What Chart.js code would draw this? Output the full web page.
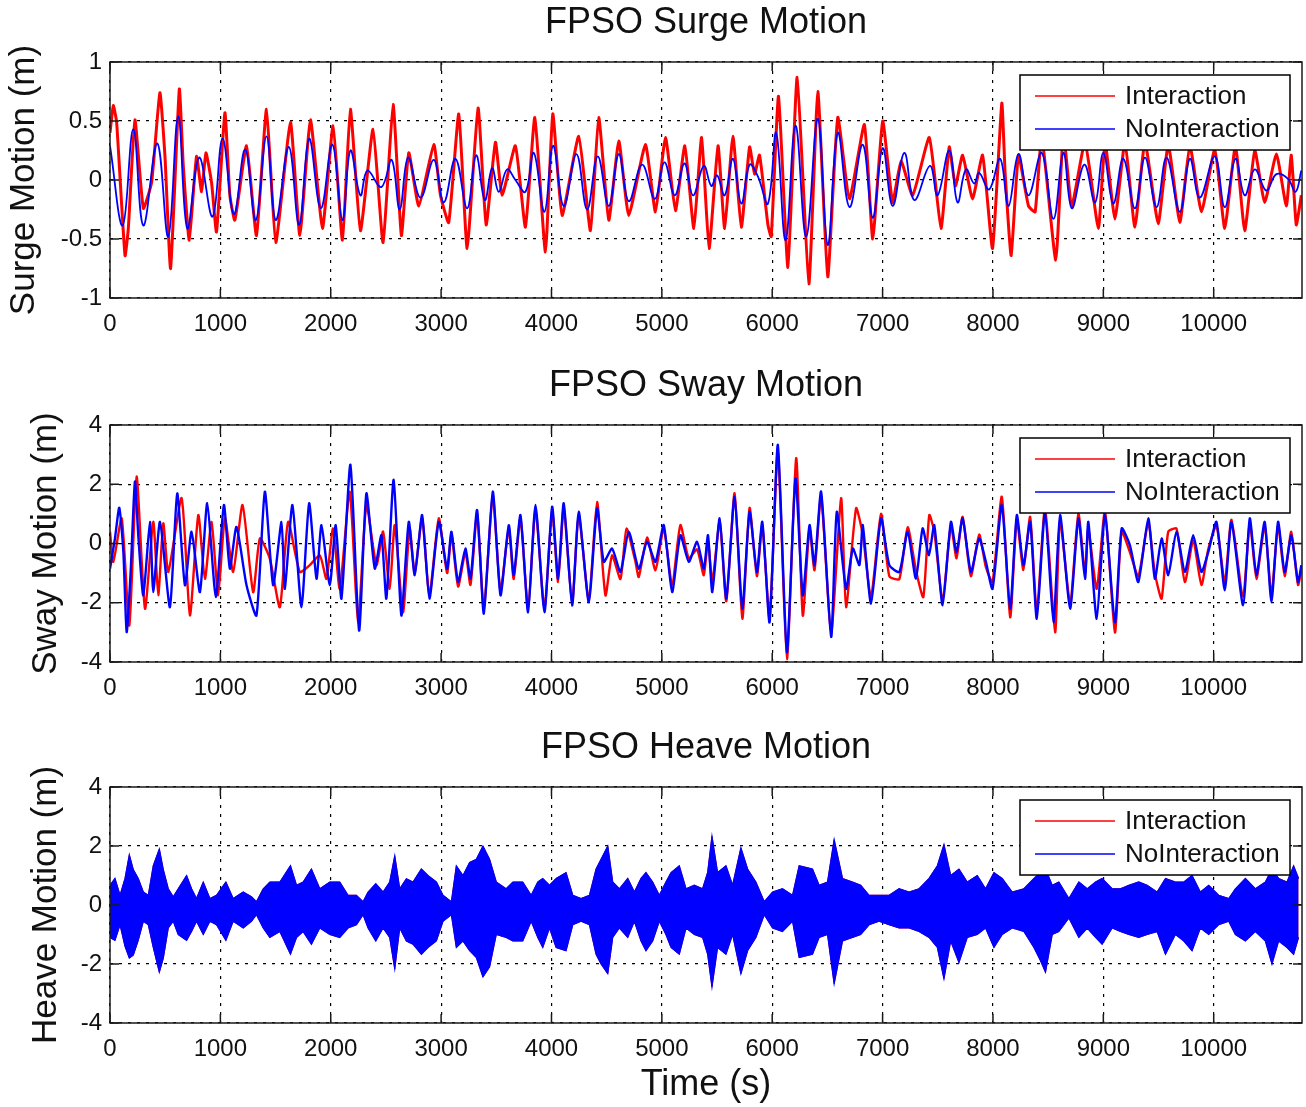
<!DOCTYPE html>
<html>
<head>
<meta charset="utf-8">
<title>FPSO Motions</title>
<script src="https://cdn.jsdelivr.net/npm/chart.js@4.4.1/dist/chart.umd.min.js"></script>
<style>
    html, body { margin: 0; padding: 0; background: #fff; overflow: hidden; }
    canvas { position: absolute; left: 0; }
</style>
</head>
<body>
<canvas id="surgeChart" width="1306" height="340" style="top:0px"></canvas>
<canvas id="swayChart" width="1306" height="360" style="top:340px"></canvas>
<canvas id="heaveChart" width="1306" height="407" style="top:700px"></canvas>
<script>
// tick labels
const timeTicks = [0, 1000, 2000, 3000, 4000, 5000, 6000, 7000, 8000, 9000, 10000];
const surgeTicks = [-1, -0.5, 0, 0.5, 1];
const motionTicks = [-4, -2, 0, 2, 4];
const seriesNames = ["Interaction", "NoInteraction"];
const seriesColors = ["#ff0000", "#0000ff"];

// [time (s), surge (m)]
const surgeInteraction = [
    [0,0.40],[30,0.63],[60,0.49],[136,-0.64],[166,-0.41],[226,0.51],[302,-0.24],[377,-0.02],[452,0.74],[498,0.20],
    [549,-0.75],[628,0.77],[664,0.12],[718,-0.51],[784,0.20],[830,-0.10],[869,0.23],[920,-0.02],[965,-0.44],[1041,0.57],
    [1086,-0.13],[1131,-0.34],[1237,0.29],[1327,-0.47],[1418,0.60],[1502,-0.53],[1635,0.49],[1720,-0.47],[1816,0.51],[1925,-0.41],
    [2021,0.46],[2106,-0.51],[2178,0.60],[2269,-0.43],[2383,0.43],[2474,-0.53],[2565,0.64],[2640,-0.47],[2707,0.23],[2798,-0.22],
    [2934,0.30],[2994,-0.13],[3069,-0.36],[3160,0.56],[3236,-0.58],[3335,0.61],[3408,-0.38],[3492,0.32],[3553,-0.13],[3673,0.29],
    [3764,-0.40],[3849,0.53],[3945,-0.61],[4012,0.56],[4096,-0.30],[4247,0.37],[4353,-0.43],[4428,0.53],[4519,-0.34],[4610,0.33],
    [4700,-0.30],[4851,0.30],[4942,-0.27],[5033,0.36],[5123,-0.26],[5208,0.29],[5290,-0.41],[5360,0.36],[5428,-0.58],[5509,0.29],
    [5569,-0.41],[5644,0.37],[5720,-0.40],[5795,0.28],[5840,0.05],[5885,0.21],[5961,-0.38],[5991,-0.48],[6057,0.71],[6142,-0.74],
    [6226,0.87],[6332,-0.88],[6413,0.75],[6503,-0.82],[6594,0.53],[6700,-0.16],[6835,0.47],[6911,-0.50],[7001,0.50],[7091,-0.19],
    [7167,0.16],[7272,-0.13],[7423,0.36],[7529,-0.41],[7604,0.28],[7660,-0.05],[7725,0.21],[7815,-0.16],[7906,0.21],[7996,-0.58],
    [8080,0.65],[8110,0.06],[8165,-0.64],[8231,0.21],[8322,-0.22],[8382,-0.27],[8442,0.37],[8569,-0.68],[8638,0.40],[8714,-0.22],
    [8834,0.32],[8955,-0.41],[9015,0.32],[9105,-0.33],[9196,0.32],[9286,-0.40],[9377,0.32],[9497,-0.37],[9588,0.30],[9693,-0.36],
    [9784,0.29],[9889,-0.27],[10010,0.26],[10100,-0.41],[10197,0.29],[10281,-0.43],[10372,0.25],[10462,-0.19],[10568,0.22],[10658,-0.22],
    [10703,0.21],[10748,-0.38],[10794,-0.13]
];
const surgeNoInteraction = [
    [0,0.29],[115,-0.385],[211,0.43],[302,-0.385],[428,0.31],[528,-0.48],[618,0.54],[700,-0.41],[808,0.19],[929,-0.31],
    [1020,0.35],[1122,-0.29],[1225,0.26],[1321,-0.34],[1418,0.37],[1502,-0.34],[1620,0.28],[1714,-0.38],[1804,0.35],[1910,-0.24],
    [2015,0.30],[2106,-0.34],[2178,0.25],[2269,-0.13],[2332,0.08],[2459,-0.06],[2552,0.17],[2625,-0.25],[2701,0.19],[2813,-0.15],
    [2934,0.17],[3024,-0.19],[3130,0.18],[3236,-0.24],[3317,0.21],[3396,-0.17],[3462,0.10],[3522,-0.10],[3598,0.09],[3673,0.0],
    [3764,-0.10],[3840,0.23],[3936,-0.27],[4015,0.29],[4111,-0.22],[4226,0.22],[4323,-0.25],[4419,0.20],[4519,-0.22],[4610,0.22],
    [4700,-0.18],[4821,0.13],[4936,-0.16],[5023,0.15],[5117,-0.13],[5205,0.14],[5283,-0.13],[5380,0.12],[5448,-0.05],[5500,0.04],
    [5569,-0.13],[5644,0.18],[5720,-0.20],[5795,0.13],[5870,0.03],[5961,-0.20],[6036,0.40],[6121,-0.51],[6211,0.46],[6308,-0.48],
    [6413,0.52],[6503,-0.55],[6594,0.40],[6700,-0.23],[6820,0.30],[6911,-0.32],[7001,0.27],[7091,-0.22],[7197,0.23],[7287,-0.17],
    [7429,0.12],[7498,-0.13],[7604,0.25],[7679,-0.19],[7755,0.09],[7830,-0.03],[7875,0.06],[7966,-0.08],[8065,0.18],[8141,-0.22],
    [8231,0.22],[8322,-0.13],[8442,0.23],[8548,-0.33],[8638,0.23],[8714,-0.24],[8828,0.13],[8925,-0.19],[9000,0.23],[9090,-0.20],
    [9181,0.18],[9286,-0.24],[9377,0.19],[9482,-0.23],[9573,0.19],[9693,-0.27],[9784,0.18],[9874,-0.15],[10010,0.20],[10100,-0.23],
    [10197,0.18],[10281,-0.13],[10372,0.09],[10477,-0.09],[10568,0.05],[10673,0.01],[10742,-0.10],[10794,0.08]
];

// [time (s), sway (m)]
const swayInteraction = [
    [0,0.40],[30,-0.62],[106,0.85],[175,-2.77],[241,2.26],[317,-2.20],[392,0.73],[437,-1.75],[483,0.68],[528,-0.96],
    [649,1.53],[724,-2.43],[800,0.96],[860,-1.19],[920,0.73],[980,-1.75],[1041,0.85],[1116,-0.96],[1201,1.30],[1297,-1.64],
    [1358,0.17],[1448,-0.51],[1539,-2.15],[1614,0.73],[1720,-0.96],[1810,-0.73],[1901,-0.40],[1961,-1.19],[2021,0.51],[2082,-1.53],
    [2172,1.75],[2248,-2.66],[2323,1.30],[2414,-0.73],[2474,0.40],[2534,-1.53],[2580,0.62],[2655,-2.32],[2715,0.50],[2761,-1.0],
    [2828,0.85],[2894,-1.75],[2979,0.85],[3054,-1.0],[3094,0.30],[3154,-1.45],[3220,-0.30],[3266,-1.40],[3326,1.0],[3387,-2.2],
    [3468,1.60],[3538,-1.60],[3613,0.50],[3658,-1.2],[3719,0.85],[3788,-2.2],[3855,1.15],[3936,-2.2],[4006,1.10],[4060,-1.3],
    [4111,1.2],[4187,-2.0],[4247,0.95],[4338,-1.9],[4413,1.40],[4489,-1.75],[4549,-0.40],[4625,-1.20],[4680,0.5],[4760,-0.6],
    [4791,-1.13],[4866,0.2],[4942,-0.9],[5017,0.5],[5093,-1.4],[5168,0.62],[5244,-0.5],[5319,-0.2],[5380,-1.07],[5418,0.1],
    [5457,-1.3],[5524,0.75],[5584,-1.95],[5659,1.7],[5729,-2.54],[5795,1.2],[5861,-1.1],[5910,0.6],[5976,-2.5],[6051,3.1],
    [6133,-3.9],[6217,2.88],[6277,-2.43],[6338,0.5],[6383,-0.9],[6443,1.6],[6534,-3.0],[6624,1.53],[6669,-2.15],[6760,1.19],
    [6820,0.3],[6895,-1.8],[6986,1.0],[7061,-1.1],[7152,-1.2],[7227,0.55],[7302,-0.9],[7369,-1.81],[7423,0.96],[7468,0.4],
    [7544,-1.9],[7619,0.6],[7670,-0.5],[7725,0.9],[7800,-1.1],[7875,0.3],[7936,-0.8],[7996,-1.3],[8080,1.58],[8156,-2.49],
    [8216,0.8],[8276,-0.9],[8337,0.9],[8397,-2.3],[8472,1.2],[8563,-3.0],[8608,0.8],[8699,-2.0],[8774,1.0],[8834,-1.0],
    [8864,0.5],[8940,-1.53],[9015,1.1],[9105,-3.0],[9166,0.4],[9241,-0.3],[9317,-1.1],[9407,0.7],[9467,-1.0],[9528,-1.86],
    [9588,0.4],[9663,0.5],[9739,-1.30],[9814,0.1],[9889,-1.4],[9950,-0.2],[10025,0.6],[10100,-1.3],[10161,0.8],[10266,-1.8],
    [10327,0.7],[10387,-1.2],[10462,0.6],[10523,-1.75],[10583,0.6],[10643,-1.1],[10703,0.4],[10764,-1.4],[10794,-0.9]
];
const swayNoInteraction = [
    [0,-0.85],[45,0.17],[84,1.21],[121,-0.28],[151,-2.99],[187,-0.96],[226,2.09],[256,0.28],[302,-1.75],[362,0.73],
    [392,-1.64],[453,0.73],[543,-2.15],[609,1.69],[679,-1.41],[739,0.40],[815,-1.64],[881,1.36],[959,-1.81],[1032,1.30],
    [1086,-0.85],[1146,0.56],[1237,-1.41],[1327,-2.43],[1403,1.75],[1478,-1.41],[1554,0.73],[1584,-1.53],[1653,1.30],[1735,-2.15],
    [1804,1.36],[1871,-1.19],[1916,0.62],[1991,-1.41],[2045,0.62],[2097,-1.86],[2178,2.66],[2257,-2.94],[2323,1.69],[2399,-0.85],
    [2459,0.28],[2504,-1.86],[2570,2.15],[2640,-2.43],[2707,0.73],[2761,-1.07],[2828,0.96],[2894,-1.86],[2979,0.73],[3054,-0.85],
    [3094,0.40],[3154,-1.30],[3220,-0.17],[3266,-1.19],[3326,1.13],[3387,-2.37],[3468,1.75],[3538,-1.75],[3613,0.62],[3658,-1.07],
    [3719,0.96],[3788,-2.32],[3855,1.30],[3936,-2.32],[4006,1.24],[4060,-1.19],[4111,1.36],[4187,-2.09],[4247,1.07],[4338,-1.98],
    [4413,1.19],[4474,-0.62],[4549,-0.17],[4625,-0.96],[4700,0.40],[4791,-0.85],[4866,0.06],[4942,-0.62],[5017,0.62],[5093,-1.64],
    [5168,0.28],[5244,-0.62],[5319,0.06],[5380,-0.85],[5418,0.28],[5457,-1.64],[5524,0.85],[5584,-1.86],[5659,1.58],[5729,-2.20],
    [5795,1.07],[5861,-0.96],[5910,0.73],[5976,-2.66],[6051,3.33],[6133,-3.67],[6211,2.20],[6277,-1.75],[6338,0.62],[6383,-0.73],
    [6443,1.75],[6534,-3.16],[6585,1.07],[6669,-1.53],[6730,-0.17],[6790,-0.73],[6820,0.62],[6895,-2.03],[6986,0.85],[7061,-0.73],
    [7152,-0.96],[7227,0.40],[7302,-1.19],[7363,0.51],[7420,-0.40],[7468,0.62],[7544,-2.09],[7619,0.73],[7670,-0.30],[7725,0.85],
    [7800,-0.96],[7875,0.17],[7936,-0.62],[7996,-1.53],[8080,1.30],[8156,-2.20],[8216,0.96],[8276,-0.73],[8337,0.73],[8397,-2.54],
    [8472,1.07],[8548,-2.66],[8608,0.96],[8699,-2.20],[8774,0.85],[8834,-1.19],[8864,0.73],[8940,-2.54],[9015,0.96],[9105,-2.66],
    [9166,0.51],[9241,-0.06],[9317,-1.30],[9407,0.85],[9467,-1.19],[9528,0.17],[9588,-1.07],[9663,0.40],[9739,-0.96],[9814,0.28],
    [9889,-0.96],[9950,-0.30],[10025,0.73],[10100,-1.58],[10161,0.73],[10266,-2.09],[10327,0.85],[10387,-1.07],[10462,0.73],[10523,-1.98],
    [10583,0.73],[10643,-0.96],[10703,0.28],[10764,-1.30],[10794,-0.73]
];

// heave is a fast oscillation: [time (s), upper peak, lower peak] of the trace
// (Interaction lies under NoInteraction almost everywhere)
const heaveEnvelope = [
    [0,0.67,-1.1],[45,0.9,-1.2],[91,0.33,-0.67],[136,0.9,-1.4],[175,1.7,-1.8],[211,1.2,-1.7],[256,0.9,-1.2],[302,0.44,-0.55],
    [347,0.33,-0.67],[392,1.33,-1.44],[447,1.9,-2.28],[483,1.2,-1.8],[528,0.55,-0.78],[573,0.28,-0.55],[618,0.55,-1.0],[694,1.0,-1.2],
    [739,0.55,-0.9],[784,0.22,-0.55],[845,0.78,-1.0],[905,0.22,-0.55],[965,0.33,-0.67],[1050,0.78,-1.2],[1116,0.22,-0.55],[1207,0.44,-0.78],
    [1282,0.28,-0.55],[1327,0.11,-0.33],[1388,0.55,-0.78],[1448,0.78,-1.1],[1539,0.78,-0.9],[1635,1.33,-1.67],[1690,0.67,-1.1],[1750,0.78,-0.9],
    [1825,1.22,-1.33],[1901,0.55,-0.78],[1991,0.78,-1.0],[2082,0.78,-1.1],[2157,0.33,-0.78],[2233,0.33,-0.67],[2293,0.11,-0.33],[2338,0.44,-0.78],
    [2408,0.72,-1.22],[2474,0.44,-0.78],[2534,0.78,-1.1],[2580,1.67,-2.17],[2625,0.55,-0.78],[2685,0.89,-1.22],[2745,0.78,-1.33],[2821,1.22,-1.67],
    [2881,1.0,-1.44],[2957,0.78,-1.22],[3017,0.33,-0.55],[3093,0.11,-0.33],[3138,1.33,-1.44],[3198,1.0,-1.22],[3258,1.44,-1.55],[3319,1.55,-1.78],
    [3379,2.0,-2.44],[3439,1.55,-2.1],[3500,0.78,-1.0],[3589,0.55,-1.1],[3650,0.78,-1.22],[3740,0.78,-1.22],[3816,0.33,-0.55],[3876,0.78,-1.1],
    [3921,0.9,-1.44],[3982,0.67,-0.78],[4042,0.9,-1.44],[4132,1.1,-1.55],[4193,0.33,-0.67],[4268,0.22,-0.55],[4344,0.33,-0.67],[4404,1.22,-1.67],
    [4449,1.55,-2.0],[4510,2.0,-2.33],[4555,0.78,-1.1],[4615,0.55,-0.78],[4691,0.9,-1.1],[4751,0.44,-0.55],[4811,0.9,-1.22],[4856,1.1,-1.55],
    [4917,0.78,-1.22],[4977,0.33,-0.55],[5037,0.78,-1.0],[5083,1.1,-1.44],[5158,1.33,-1.67],[5219,0.55,-0.78],[5294,0.67,-1.0],[5369,0.55,-1.1],
    [5415,1.1,-1.67],[5454,2.33,-2.78],[5505,1.1,-1.44],[5581,1.33,-1.67],[5641,0.67,-1.0],[5716,1.94,-2.33],[5777,1.22,-1.55],[5852,0.78,-1.1],
    [5928,0.11,-0.33],[6003,0.44,-0.78],[6093,0.55,-0.9],[6184,0.33,-0.55],[6244,1.33,-1.78],[6365,1.22,-1.67],[6425,0.67,-1.1],[6501,0.78,-1.0],
    [6561,2.22,-2.67],[6637,0.9,-1.22],[6727,0.78,-1.1],[6802,0.67,-1.0],[6878,0.33,-0.67],[6968,0.33,-0.55],[7059,0.33,-0.67],[7149,0.55,-0.78],
    [7240,0.44,-0.78],[7330,0.55,-0.9],[7421,0.9,-1.1],[7496,1.33,-1.44],[7556,2.05,-2.5],[7617,1.0,-1.22],[7692,1.22,-1.95],[7767,0.78,-1.1],
    [7858,1.0,-1.0],[7933,0.55,-0.78],[8009,1.1,-1.44],[8084,0.9,-1.0],[8175,0.44,-0.78],[8280,0.55,-0.9],[8371,0.9,-1.44],[8431,1.1,-1.89],
    [8476,1.22,-2.28],[8537,0.67,-1.0],[8597,0.78,-0.9],[8688,0.22,-0.44],[8778,0.78,-1.1],[8854,0.55,-0.78],[8929,0.78,-1.1],[8989,0.9,-1.33],
    [9080,0.55,-0.78],[9155,0.55,-0.9],[9231,0.67,-1.0],[9321,0.78,-1.1],[9397,0.67,-1.0],[9487,0.44,-0.9],[9563,0.9,-1.67],[9653,0.78,-1.0],
    [9729,0.78,-1.22],[9804,1.0,-1.55],[9879,0.44,-0.78],[9955,0.67,-1.0],[10045,0.33,-0.67],[10136,0.22,-0.55],[10196,0.55,-1.0],[10287,0.9,-1.22],
    [10377,0.55,-0.9],[10468,0.78,-1.22],[10528,1.22,-2.0],[10588,0.9,-1.22],[10664,0.78,-1.44],[10724,1.33,-1.67],[10769,0.9,-1.1]
];

Chart.defaults.font.family = "'Liberation Sans', Arial, sans-serif";
Chart.defaults.color = "#111";

function toPoints(rows, col) {
    return rows.map((r) => ({ x: r[0], y: r[col || 1] }));
}

// frame, inner tick marks, title and boxed legend the way MATLAB draws them
const matlabAxes = {
    id: "matlabAxes",
    afterDatasetsDraw(chart, args, opts) {
        const ctx = chart.ctx;
        const a = chart.chartArea;
        const xs = chart.scales.x;
        const ys = chart.scales.y;
        ctx.save();
        ctx.strokeStyle = "#1a1a1a";
        ctx.lineWidth = 1.5;
        ctx.beginPath();
        xs.ticks.forEach((t) => {
            const px = xs.getPixelForValue(t.value);
            ctx.moveTo(px, a.bottom);
            ctx.lineTo(px, a.bottom - 9);
            ctx.moveTo(px, a.top);
            ctx.lineTo(px, a.top + 9);
        });
        ys.ticks.forEach((t) => {
            const py = ys.getPixelForValue(t.value);
            ctx.moveTo(a.left, py);
            ctx.lineTo(a.left + 9, py);
            ctx.moveTo(a.right, py);
            ctx.lineTo(a.right - 9, py);
        });
        ctx.stroke();
        ctx.strokeRect(a.left, a.top, a.right - a.left, a.bottom - a.top);

        // legend
        const w = 270, h = 75;
        const lx = a.right - 12 - w, ly = a.top + 13;
        ctx.fillStyle = "#fff";
        ctx.fillRect(lx, ly, w, h);
        ctx.strokeStyle = "#000";
        ctx.strokeRect(lx, ly, w, h);
        ctx.font = "26px 'Liberation Sans', Arial, sans-serif";
        ctx.textBaseline = "middle";
        ctx.textAlign = "left";
        seriesNames.forEach((name, i) => {
            const y = ly + 21 + i * 33;
            ctx.strokeStyle = seriesColors[i];
            ctx.lineWidth = 1.5;
            ctx.beginPath();
            ctx.moveTo(lx + 15, y);
            ctx.lineTo(lx + 95, y);
            ctx.stroke();
            ctx.fillStyle = "#111";
            ctx.fillText(name, lx + 105, y + 1);
        });

        // title
        ctx.font = "36px 'Liberation Sans', Arial, sans-serif";
        ctx.textAlign = "center";
        ctx.fillStyle = "#111";
        ctx.fillText(opts.title, (a.left + a.right) / 2, a.top - 39);
        ctx.restore();
    },
};

function makeOptions(o) {
    return {
        responsive: false,
        animation: false,
        layout: { padding: { top: o.top, right: 4, left: 0, bottom: 0 } },
        elements: { point: { radius: 0 } },
        plugins: {
            legend: { display: false },
            tooltip: { enabled: false },
            matlabAxes: { title: o.title },
        },
        scales: {
            x: {
                type: "linear",
                min: 0,
                max: 10800,
                afterBuildTicks: (scale) => { scale.ticks = timeTicks.map((v) => ({ value: v })); },
                afterFit: (scale) => { scale.height = o.xHeight; },
                ticks: {
                    font: { size: 24 }, padding: 12, autoSkip: false, maxRotation: 0, color: "#111",
                    callback: (v) => String(v),
                },
                grid: { color: "#000", lineWidth: 1.2, drawTicks: false },
                border: { display: false, dash: [3, 6] },
                title: o.xTitle
                    ? { display: true, text: o.xTitle, font: { size: 36 }, padding: { top: 0, bottom: 0 }, color: "#111" }
                    : { display: false },
            },
            y: {
                min: o.yTicks[0],
                max: o.yTicks[o.yTicks.length - 1],
                afterBuildTicks: (scale) => { scale.ticks = o.yTicks.map((v) => ({ value: v })); },
                afterFit: (scale) => { scale.width = 110; },
                ticks: { font: { size: 24 }, padding: 8, color: "#111", callback: (v) => String(v) },
                grid: { color: "#000", lineWidth: 1.2, drawTicks: false },
                border: { display: false, dash: [3, 6] },
                title: { display: true, text: o.yTitle, font: { size: 35 }, padding: { top: o.yTitlePad, bottom: 0 }, color: "#111" },
            },
        },
    };
}

new Chart(document.getElementById("surgeChart"), {
    type: "line",
    data: {
        datasets: [
            { label: seriesNames[0], data: toPoints(surgeInteraction), borderColor: seriesColors[0], borderWidth: 3, tension: 0.15, order: 1 },
            { label: seriesNames[1], data: toPoints(surgeNoInteraction), borderColor: seriesColors[1], borderWidth: 1.8, tension: 0.4, order: 0 },
        ],
    },
    options: makeOptions({ title: "FPSO Surge Motion", top: 62, xHeight: 42, yTicks: surgeTicks, yTitle: "Surge Motion (m)", yTitlePad: 3 }),
    plugins: [matlabAxes],
});

new Chart(document.getElementById("swayChart"), {
    type: "line",
    data: {
        datasets: [
            { label: seriesNames[0], data: toPoints(swayInteraction), borderColor: seriesColors[0], borderWidth: 2.4, tension: 0.2, order: 1 },
            { label: seriesNames[1], data: toPoints(swayNoInteraction), borderColor: seriesColors[1], borderWidth: 2.4, tension: 0.2, order: 0 },
        ],
    },
    options: makeOptions({ title: "FPSO Sway Motion", top: 85, xHeight: 38, yTicks: motionTicks, yTitle: "Sway Motion (m)", yTitlePad: 25 }),
    plugins: [matlabAxes],
});

new Chart(document.getElementById("heaveChart"), {
    type: "line",
    data: {
        datasets: [
            { label: seriesNames[0], data: toPoints(heaveEnvelope, 1), borderColor: seriesColors[0], borderWidth: 1, order: 1 },
            { label: "", data: toPoints(heaveEnvelope, 2), borderColor: seriesColors[0], borderWidth: 1, fill: "-1", backgroundColor: seriesColors[0], order: 1 },
            { label: seriesNames[1], data: toPoints(heaveEnvelope, 1), borderColor: seriesColors[1], borderWidth: 1.2, order: 0 },
            { label: "", data: toPoints(heaveEnvelope, 2), borderColor: seriesColors[1], borderWidth: 1.2, fill: "-1", backgroundColor: seriesColors[1], order: 0 },
        ],
    },
    options: makeOptions({ title: "FPSO Heave Motion", top: 87, xHeight: 84, xTitle: "Time (s)", yTicks: motionTicks, yTitle: "Heave Motion (m)", yTitlePad: 25 }),
    plugins: [matlabAxes],
});
</script>
</body>
</html>
